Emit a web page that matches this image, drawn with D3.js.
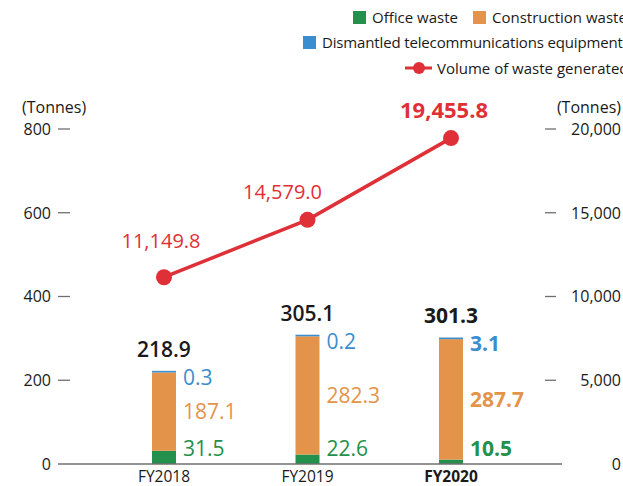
<!DOCTYPE html>
<html>
<head>
<meta charset="utf-8">
<script src="https://cdn.jsdelivr.net/npm/d3@7/dist/d3.min.js"></script>
<style>
  html, body { margin: 0; padding: 0; background: #fff; }
  svg { display: block; font-family: "Open Sans", "Noto Sans", sans-serif; }
</style>
</head>
<body>
<svg id="chart" width="623" height="486"></svg>
<script>
// Waste data by fiscal year (tonnes)
const years = ["FY2018", "FY2019", "FY2020"];
const officeWaste = [31.5, 22.6, 10.5];
const constructionWaste = [187.1, 282.3, 287.7];
const telecomEquipment = [0.3, 0.2, 3.1];
const totals = [218.9, 305.1, 301.3];
const wasteGenerated = [11149.8, 14579.0, 19455.8];
const leftTicks = [0, 200, 400, 600, 800];
const rightTicks = [0, 5000, 10000, 15000, 20000];

const colors = {
  office: "#23904b",
  construction: "#e3944a",
  telecom: "#3a8ecf",
  volume: "#df3038",
  axis: "#6f6f6f",
  text: "#1a1a1a"
};

// layout offsets for the line value labels (keeps them clear of the line)
const lineLabelShift = [[-3, -29], [-25, -21], [-7, -20]];

const svg = d3.select("#chart");
const latest = years.length - 1;

const x = d3.scalePoint().domain(years).range([164, 451]);
const yL = d3.scaleLinear().domain([0, 800]).range([464, 129]);
const yR = d3.scaleLinear().domain([0, 20000]).range([464, 129]);
const barW = 24;

// axes
const fmtR = d3.format(",");
const leftAxis = svg.append("g");
leftAxis.selectAll("line").data(leftTicks.filter(d => d > 0)).join("line")
  .attr("x1", 58).attr("x2", 70)
  .attr("y1", d => yL(d)).attr("y2", d => yL(d))
  .attr("stroke", colors.axis).attr("stroke-width", 1.3);
leftAxis.selectAll("text").data(leftTicks).join("text")
  .attr("x", 51).attr("y", d => yL(d)).attr("dy", "0.36em")
  .attr("text-anchor", "end").attr("font-size", 16).attr("fill", colors.text)
  .text(d => d);

const rightAxis = svg.append("g");
rightAxis.selectAll("line").data(rightTicks.filter(d => d > 0)).join("line")
  .attr("x1", 545).attr("x2", 556)
  .attr("y1", d => yR(d)).attr("y2", d => yR(d))
  .attr("stroke", colors.axis).attr("stroke-width", 1.3);
rightAxis.selectAll("text").data(rightTicks).join("text")
  .attr("x", 621).attr("y", d => yR(d)).attr("dy", "0.36em")
  .attr("text-anchor", "end").attr("font-size", 16).attr("fill", colors.text)
  .text(d => fmtR(d));

svg.append("text").attr("x", 22).attr("y", 113)
  .attr("font-size", 16).attr("fill", colors.text).text("(Tonnes)");
svg.append("text").attr("x", 621).attr("y", 113).attr("text-anchor", "end")
  .attr("font-size", 16).attr("fill", colors.text).text("(Tonnes)");

// stacked bars
const rows = years.map((yr, i) => ({
  year: yr,
  office: officeWaste[i],
  construction: constructionWaste[i],
  telecom: telecomEquipment[i]
}));
const keys = ["office", "construction", "telecom"];
const stack = d3.stack().keys(keys)(rows);

const bars = svg.append("g");
stack.forEach(layer => {
  bars.selectAll(null).data(layer).join("rect")
    .attr("x", d => x(d.data.year) - barW / 2)
    .attr("width", barW)
    .attr("y", d => {
      const h = yL(d[0]) - yL(d[1]);
      return layer.key === "telecom" ? yL(d[0]) - Math.max(h, 1.6) : yL(d[1]);
    })
    .attr("height", d => {
      const h = yL(d[0]) - yL(d[1]);
      return layer.key === "telecom" ? Math.max(h, 1.6) : h;
    })
    .attr("fill", colors[layer.key]);
});

// baseline
svg.append("line").attr("x1", 58).attr("x2", 562)
  .attr("y1", yL(0)).attr("y2", yL(0))
  .attr("stroke", colors.axis).attr("stroke-width", 1.5);

// bar value labels
const lbl = svg.append("g").attr("font-size", 21);
years.forEach((yr, i) => {
  const bold = i === latest ? 700 : 400;
  const lx = x(yr) + barW / 2 + 7;
  const top = yL(totals[i]);
  lbl.append("text").attr("x", x(yr)).attr("y", top - 15)
    .attr("text-anchor", "middle").attr("font-weight", i === latest ? 700 : 600)
    .attr("fill", colors.text).text(totals[i].toFixed(1));
  lbl.append("text").attr("x", lx).attr("y", top + 13)
    .attr("font-weight", bold).attr("fill", colors.telecom)
    .text(telecomEquipment[i].toFixed(1));
  const midC = (yL(officeWaste[i]) + yL(officeWaste[i] + constructionWaste[i])) / 2;
  lbl.append("text").attr("x", lx).attr("y", midC).attr("dy", "0.36em")
    .attr("font-weight", bold).attr("fill", colors.construction)
    .text(constructionWaste[i].toFixed(1));
  lbl.append("text").attr("x", lx).attr("y", yL(0) - 8)
    .attr("font-weight", bold).attr("fill", colors.office)
    .text(officeWaste[i].toFixed(1));
});

// category labels
svg.append("g").selectAll("text").data(years).join("text")
  .attr("x", d => x(d)).attr("y", 481.5).attr("text-anchor", "middle")
  .attr("font-size", 15.5).attr("fill", colors.text)
  .attr("font-weight", (d, i) => i === latest ? 700 : 400)
  .text(d => d);

// volume of waste generated (right axis)
const line = d3.line().x((d, i) => x(years[i])).y(d => yR(d));
svg.append("path").datum(wasteGenerated).attr("d", line)
  .attr("fill", "none").attr("stroke", colors.volume).attr("stroke-width", 3.5);
svg.append("g").selectAll("circle").data(wasteGenerated).join("circle")
  .attr("cx", (d, i) => x(years[i])).attr("cy", d => yR(d)).attr("r", 8)
  .attr("fill", colors.volume);
svg.append("g").selectAll("text").data(wasteGenerated).join("text")
  .attr("x", (d, i) => x(years[i]) + lineLabelShift[i][0])
  .attr("y", (d, i) => yR(d) + lineLabelShift[i][1])
  .attr("text-anchor", "middle")
  .attr("font-size", (d, i) => i === latest ? 22 : 20)
  .attr("font-weight", (d, i) => i === latest ? 700 : 400)
  .attr("fill", colors.volume)
  .text(d => d3.format(",.1f")(d));

// legend
const lg = svg.append("g").attr("font-size", 15).attr("fill", colors.text);
const sq = [
  { key: "office", label: "Office waste", x: 353, y: 11 },
  { key: "construction", label: "Construction waste", x: 473, y: 11 },
  { key: "telecom", label: "Dismantled telecommunications equipment", x: 303, y: 36 }
];
sq.forEach(s => {
  lg.append("rect").attr("x", s.x).attr("y", s.y).attr("width", 13).attr("height", 13)
    .attr("fill", colors[s.key]);
  lg.append("text").attr("x", s.x + 19).attr("y", s.y + 12)
    .attr("letter-spacing", s.key === "telecom" ? -0.15 : 0)
    .text(s.label);
});
lg.append("line").attr("x1", 405).attr("x2", 432).attr("y1", 68).attr("y2", 68)
  .attr("stroke", colors.volume).attr("stroke-width", 3);
lg.append("circle").attr("cx", 419).attr("cy", 68).attr("r", 6).attr("fill", colors.volume);
lg.append("text").attr("x", 437).attr("y", 74).text("Volume of waste generated");
</script>
</body>
</html>
